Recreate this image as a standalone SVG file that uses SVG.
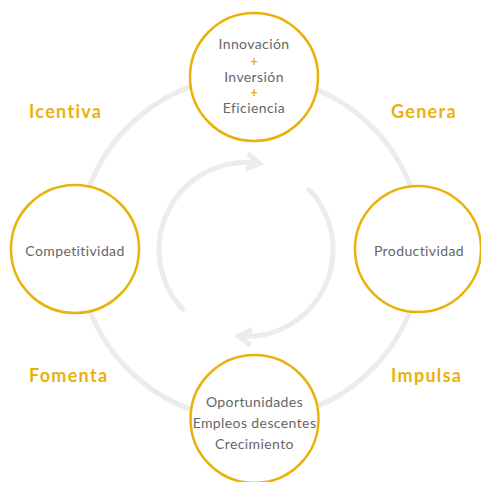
<svg xmlns="http://www.w3.org/2000/svg" width="481" height="482" viewBox="0 0 481 482">
<defs>
<style>
.ring{fill:none;stroke:#ececec;stroke-width:5}
.node circle{fill:#fff;stroke:#e9b20b;stroke-width:2.5}
.t{font-family:Lato,"Liberation Sans",sans-serif;font-size:14px;fill:#666;text-anchor:middle;letter-spacing:0.4px}
.plus{font-family:Lato,"Liberation Sans",sans-serif;font-size:12.5px;font-weight:900;fill:#e9b20b;text-anchor:middle}
.lbl{font-family:Lato,"Liberation Sans",sans-serif;font-size:18px;font-weight:bold;fill:#e9b20b;letter-spacing:1.3px}
</style>
<marker id="chev" markerUnits="userSpaceOnUse" viewBox="-20 -14 26 28" refX="0" refY="0" markerWidth="26" markerHeight="28" orient="auto" overflow="visible">
<path d="M-13,-8 L0,0 L-13,8" fill="none" stroke="#ececec" stroke-width="5"/>
</marker>
</defs>
<g id="connectors">
<circle class="ring" cx="250" cy="248" r="172"/>
<path class="ring" d="M184.5,311 A87,87 0 0 1 259.6,163.6" marker-end="url(#chev)"/>
<path class="ring" d="M307.5,188 A87,87 0 0 1 238.4,336.2" marker-end="url(#chev)"/>
</g>
<g id="node-top" class="node">
<circle cx="254" cy="77" r="64"/>
<text class="t" x="254" y="49">Innovación</text>
<text class="plus" x="254" y="65.5">+</text>
<text class="t" x="254" y="82">Inversión</text>
<text class="plus" x="254" y="96.5">+</text>
<text class="t" x="254" y="113">Eficiencia</text>
</g>
<g id="node-left" class="node">
<circle cx="75" cy="249" r="64"/>
<text class="t" x="75" y="256">Competitividad</text>
</g>
<g id="node-right" class="node">
<circle cx="418" cy="249" r="63"/>
<text class="t" x="419" y="256">Productividad</text>
</g>
<g id="node-bottom" class="node">
<circle cx="254.5" cy="419" r="64"/>
<text class="t" x="254.5" y="407">Oportunidades</text>
<text class="t" x="254.5" y="428">Empleos descentes</text>
<text class="t" x="254.5" y="449">Crecimiento</text>
</g>
<g id="labels">
<text class="lbl" x="29" y="118">Icentiva</text>
<text class="lbl" x="391" y="118">Genera</text>
<text class="lbl" x="29" y="382">Fomenta</text>
<text class="lbl" x="391" y="382">Impulsa</text>
</g>
</svg>
